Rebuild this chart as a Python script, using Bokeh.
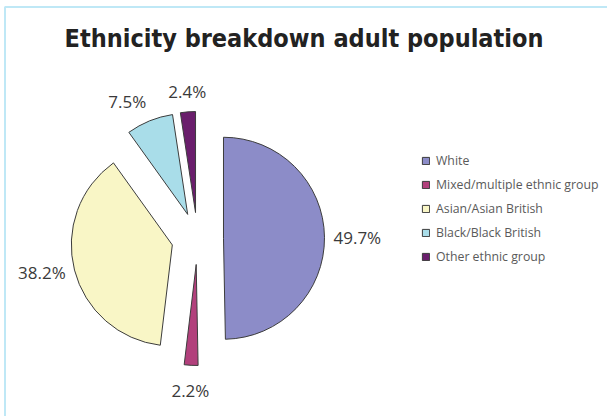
import math
from bokeh.plotting import figure
from bokeh.models import ColumnDataSource, Legend, LegendItem, Label, BoxAnnotation, Range1d
from bokeh.embed import file_html
from bokeh.resources import INLINE

# ---- data ----
categories = ["White", "Mixed/multiple ethnic group", "Asian/Asian British",
              "Black/Black British", "Other ethnic group"]
percentages = [49.7, 2.2, 38.2, 7.5, 2.4]
labels = ["49.7%", "2.2%", "38.2%", "7.5%", "2.4%"]
colors = ["#8c8cc8", "#b2407c", "#f9f6c6", "#a9dde9", "#6a1e6c"]
title_text = "Ethnicity breakdown adult population"

W, H = 607, 416
CX, CY = 197, H - 238      # pie centre
R = 101                    # radius
EXPLODE = 26               # explosion distance
GAP = 9

p = figure(width=W, height=H, output_backend="svg", toolbar_location=None,
           x_range=Range1d(0, W), y_range=Range1d(0, H),
           min_border=0, outline_line_color=None)
p.axis.visible = False
p.grid.visible = False
p.background_fill_color = "white"
p.border_fill_color = "white"

total = sum(percentages)
cum = 0.0
xs, ys, starts, ends, mids = [], [], [], [], []
for v in percentages:
    a0 = math.pi / 2 - 2 * math.pi * cum / total
    cum += v
    a1 = math.pi / 2 - 2 * math.pi * cum / total
    mid = (a0 + a1) / 2
    xs.append(CX + EXPLODE * math.cos(mid))
    ys.append(CY + EXPLODE * math.sin(mid))
    starts.append(a1)
    ends.append(a0)
    mids.append(mid)

items = []
for i in range(len(categories)):
    src = ColumnDataSource(dict(x=[xs[i]], y=[ys[i]], s=[starts[i]], e=[ends[i]]))
    r = p.wedge(x="x", y="y", radius=R, start_angle="s", end_angle="e",
                direction="anticlock", fill_color=colors[i],
                line_color="#3c3c3c", line_width=1, source=src)
    items.append(LegendItem(label=categories[i], renderers=[r]))

    c, s = math.cos(mids[i]), math.sin(mids[i])
    gap = GAP + (5 if s < -0.3 else 0)
    lx = xs[i] + (R + gap) * c
    ly = ys[i] + (R + gap) * s
    align = "left" if c > 0.3 else ("right" if c < -0.3 else "center")
    base = "bottom" if s > 0.3 else ("top" if s < -0.3 else "middle")
    p.add_layout(Label(x=lx, y=ly, text=labels[i], text_align=align,
                       text_baseline=base, text_font="Open Sans",
                       text_font_size="17px", text_color="#3a3a3a"))

legend = Legend(items=items, location=(421, 151), orientation="vertical",
                padding=0, margin=0, spacing=7, label_height=14,
                glyph_width=9, glyph_height=9, label_standoff=6,
                label_text_font="Open Sans", label_text_font_size="12.3px",
                label_text_color="#5a5a5a", border_line_color=None,
                background_fill_alpha=0)
p.add_layout(legend)

p.add_layout(Label(x=W / 2, y=H - 38, text=title_text, text_align="center",
                   text_baseline="middle",
                   text_font="'DejaVu Sans Condensed', Roboto",
                   text_font_style="bold", text_font_size="25px",
                   text_color="#222222"))

p.add_layout(BoxAnnotation(left=4.5, right=W + 20, bottom=-20, top=H - 6.5,
                           fill_alpha=0, line_color="#2ab4e2", line_width=2))

open("out.html", "w").write(file_html(p, INLINE))
